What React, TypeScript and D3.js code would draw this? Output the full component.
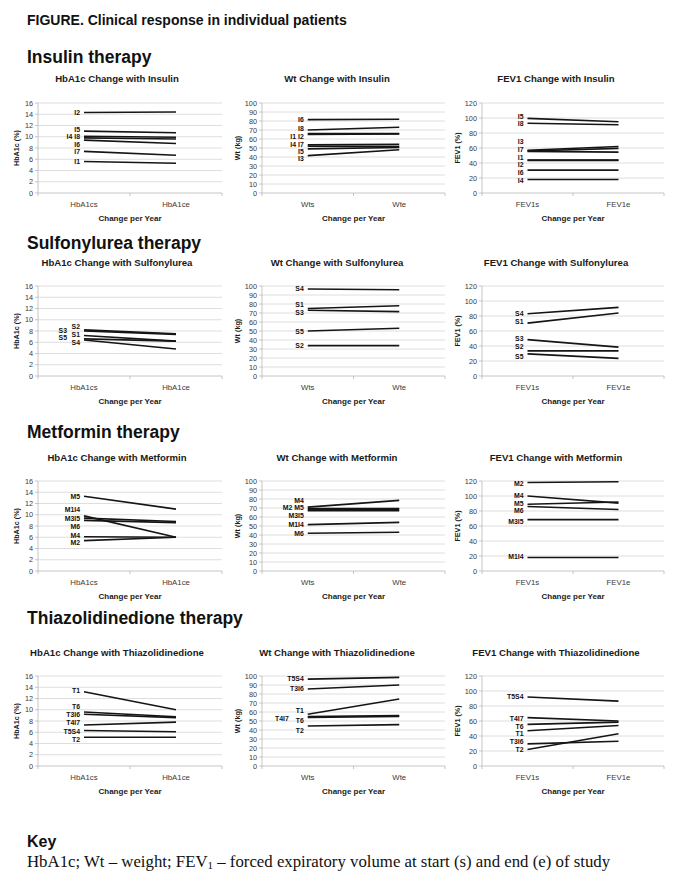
import React from 'react';
import * as d3 from 'd3';

// ---------- DATA ----------
const therapies = ['Insulin', 'Sulfonylurea', 'Metformin', 'Thiazolidinedione'];
const measures = ['HbA1c', 'Wt', 'FEV1'];
const yTitles = ['HbA1c (%)', 'Wt (kg)', 'FEV1 (%)'];
const catsHbA1c = ['HbA1cs', 'HbA1ce'];
const catsWt = ['Wts', 'Wte'];
const catsFEV1 = ['FEV1s', 'FEV1e'];
const ticksHbA1c = [0, 2, 4, 6, 8, 10, 12, 14, 16];
const ticksWt = [0, 10, 20, 30, 40, 50, 60, 70, 80, 90, 100];
const ticksFEV1 = [0, 20, 40, 60, 80, 100, 120];

// lines: [start, end]; labels: [text, value]
const insHbA1cLines = [[5.6, 5.3], [14.3, 14.4], [10.1, 9.9], [11.0, 10.7], [9.4, 8.8], [7.4, 6.7], [9.8, 9.6]];
const insHbA1cLabels: [string, number][] = [['I2', 14.3], ['I5', 11.3], ['I4 I8', 10.0], ['I6', 8.6], ['I7', 7.3], ['I1', 5.6]];
const insWtLines = [[66, 66], [65, 65.5], [41.5, 48], [53.5, 54], [49, 50.5], [81.5, 82], [52, 51.5], [70, 73]];
const insWtLabels: [string, number][] = [['I6', 81.3], ['I8', 71.2], ['I1 I2', 62.5], ['I4 I7', 54], ['I5', 46.2], ['I3', 38]];
const insFEV1Lines = [[44, 44], [43.5, 43.5], [57, 62], [18, 18], [99.5, 95], [30.5, 30.5], [56, 59.5], [55.5, 54.5], [93, 91]];
const insFEV1Labels: [string, number][] = [['I5', 102.5], ['I8', 92.2], ['I3', 69], ['I7', 58.5], ['I1', 48], ['I2', 38.5], ['I6', 27.6], ['I4', 16.4]];

const suHbA1cLines = [[8.2, 7.5], [8.0, 7.4], [7.2, 6.2], [6.6, 6.2], [6.4, 4.8]];
const suHbA1cLabels: [string, number][] = [['S2', 8.8], ['S3', 8.1], ['S1', 7.4], ['S5', 6.8], ['S4', 6.0]];
const suWtLines = [[96.7, 95.9], [75, 78], [73, 71.5], [50, 53], [33.7, 33.7]];
const suWtLabels: [string, number][] = [['S4', 96.7], ['S1', 79.8], ['S3', 70.5], ['S5', 50], ['S2', 33.7]];
const suFEV1Lines = [[83, 91.5], [70.5, 84], [48.5, 38.5], [33.5, 33.5], [29.5, 23.5]];
const suFEV1Labels: [string, number][] = [['S4', 83.8], ['S1', 72.4], ['S3', 49.5], ['S2', 38.8], ['S5', 26.5]];

const metHbA1cLines = [[13.3, 11.0], [9.8, 6.0], [9.4, 8.8], [9.0, 8.6], [6.1, 6.0], [5.4, 6.0]];
const metHbA1cLabels: [string, number][] = [['M5', 13.3], ['M1I4', 10.9], ['M3I5', 9.4], ['M6', 7.9], ['M4', 6.4], ['M2', 5.1]];
const metWtLines = [[71, 78.5], [69.5, 69.5], [68, 68.5], [67, 67], [51.5, 54], [42, 43]];
const metWtLabels: [string, number][] = [['M4', 78.5], ['M2 M5', 70.5], ['M3I5', 61.4], ['M1I4', 52.2], ['M6', 42.2]];
const metFEV1Lines = [[118, 119], [100, 90.5], [89, 92], [86, 82], [68.5, 68.5], [18, 18]];
const metFEV1Labels: [string, number][] = [['M2', 117], ['M4', 100.5], ['M5', 90.5], ['M6', 80.5], ['M3I5', 66], ['M1I4', 19]];

const tzdHbA1cLines = [[13.2, 10.0], [9.6, 8.75], [9.2, 8.6], [7.3, 7.8], [6.3, 6.1], [5.1, 5.1]];
const tzdHbA1cLabels: [string, number][] = [['T1', 13.5], ['T6', 10.6], ['T3I6', 9.2], ['T4I7', 7.8], ['T5S4', 6.2], ['T2', 4.8]];
const tzdWtLines = [[96.5, 98.5], [85.5, 90], [57.5, 74.5], [55, 56], [54, 55], [44.5, 46]];
const tzdWtLabels: [string, number][] = [['T5S4', 97.4], ['T3I6', 86.2], ['T1', 61.3], ['T4I7', 53], ['T6', 50.9], ['T2', 39.6]];
const tzdFEV1Lines = [[92, 86.5], [64.5, 60], [55.5, 58.5], [47, 54], [29.5, 33], [22, 43]];
const tzdFEV1Labels: [string, number][] = [['T5S4', 93], ['T4I7', 63.5], ['T6', 53.3], ['T1', 43], ['T3I6', 33], ['T2', 21.6]];

const panelLines = [
  [insHbA1cLines, insWtLines, insFEV1Lines],
  [suHbA1cLines, suWtLines, suFEV1Lines],
  [metHbA1cLines, metWtLines, metFEV1Lines],
  [tzdHbA1cLines, tzdWtLines, tzdFEV1Lines],
];
const panelLabels = [
  [insHbA1cLabels, insWtLabels, insFEV1Labels],
  [suHbA1cLabels, suWtLabels, suFEV1Labels],
  [metHbA1cLabels, metWtLabels, metFEV1Labels],
  [tzdHbA1cLabels, tzdWtLabels, tzdFEV1Labels],
];
const colCats = [catsHbA1c, catsWt, catsFEV1];
const colTicks = [ticksHbA1c, ticksWt, ticksFEV1];

// ---------- LAYOUT ----------
const W = 685, H = 887;
const colX = [[38, 222], [262, 445], [482, 664]];
const rowTop = [103, 286, 481, 676];
const plotH = 90;
const titleCX = [117, 337, 556];
const yTitleX = [16, 237, 457];
const headerY = [57, 243, 432, 618];
const panelTitleY = [78, 262, 457, 652];
// extra leftward shift for some labels: key `${row}-${col}-${text}`
const labelShift: Record<string, number> = { '1-0-S3': 13, '1-0-S5': 13, '3-1-T4I7': 15 };

const SANS = '"Liberation Sans", Arial, Helvetica, sans-serif';
const SERIF = '"Liberation Serif", "Times New Roman", serif';

function Panel({ row, col }: { row: number; col: number }) {
  const [x0, x1] = colX[col];
  const yTop = rowTop[row];
  const yBot = yTop + plotH;
  const cats = colCats[col];
  const ticks = colTicks[col];
  const x = d3.scaleBand().domain(cats).range([x0, x1]);
  const bw = x.bandwidth();
  const cx = (c: string) => (x(c) as number) + bw / 2;
  const y = d3.scaleLinear().domain([0, d3.max(ticks) as number]).range([yBot, yTop]);
  const line = d3.line<number>().x((_, i) => cx(cats[i])).y((d) => y(d));
  const lines = panelLines[row][col];
  const labels = panelLabels[row][col];
  const bounds = [x0, ...cats.map((c) => (x(c) as number) + bw)];
  return (
    <g>
      <text x={titleCX[col]} y={panelTitleY[row]} textAnchor="middle" dominantBaseline="central"
        fontFamily={SANS} fontWeight="bold" fontSize={9.6} fill="#1a1a1a">
        {`${measures[col]} Change with ${therapies[row]}`}
      </text>
      {ticks.map((t) => (
        <line key={'g' + t} x1={x0} x2={x1} y1={y(t)} y2={y(t)} stroke={t === 0 ? '#b8b8b8' : '#d6d6d6'} strokeWidth={0.8} />
      ))}
      <line x1={x0} x2={x0} y1={yTop} y2={yBot} stroke="#b8b8b8" strokeWidth={0.8} />
      {ticks.map((t) => (
        <g key={'t' + t}>
          <line x1={x0 - 3} x2={x0} y1={y(t)} y2={y(t)} stroke="#b8b8b8" strokeWidth={0.8} />
          <text x={x0 - 5} y={y(t)} textAnchor="end" dominantBaseline="central" fontFamily={SANS}
            fontSize={7.3} fill="#3a3a3a">{t}</text>
        </g>
      ))}
      {bounds.map((b, i) => (
        <line key={'b' + i} x1={b} x2={b} y1={yBot} y2={yBot + 3} stroke="#b8b8b8" strokeWidth={0.8} />
      ))}
      {cats.map((c) => (
        <text key={c} x={cx(c)} y={yBot + 11} textAnchor="middle" dominantBaseline="central"
          fontFamily={SANS} fontSize={7.8} fill="#3a3a3a">{c}</text>
      ))}
      <text x={(x0 + x1) / 2} y={yBot + 25} textAnchor="middle" dominantBaseline="central"
        fontFamily={SANS} fontWeight="bold" fontSize={8} fill="#1a1a1a">Change per Year</text>
      <text transform={`translate(${yTitleX[col]},${(yTop + yBot) / 2}) rotate(-90)`} textAnchor="middle"
        dominantBaseline="central" fontFamily={SANS} fontWeight="bold" fontSize={7.2} fill="#1a1a1a">
        {yTitles[col]}
      </text>
      {lines.map((l, i) => (
        <path key={'l' + i} d={line(l) as string} fill="none" stroke="#151515" strokeWidth={1.6} />
      ))}
      {labels.map(([txt, v]) => (
        <text key={txt} x={cx(cats[0]) - 4 - (labelShift[`${row}-${col}-${txt}`] || 0)} y={y(v)}
          textAnchor="end" dominantBaseline="central" fontFamily={SANS} fontWeight="bold" fontSize={6.9}
          fill="#111">{txt}</text>
      ))}
    </g>
  );
}

export default function App() {
  return (
    <svg width={W} height={H} style={{ position: 'absolute', left: 0, top: 0, background: '#fff' }}>
      <rect width={W} height={H} fill="#fff" />
      <text x={27} y={20} dominantBaseline="central" fontFamily={SANS} fontWeight="bold" fontSize={14} fill="#111">
        FIGURE.  Clinical response in individual patients
      </text>
      {therapies.map((t, r) => (
        <text key={t} x={27} y={headerY[r]} dominantBaseline="central" fontFamily={SANS} fontWeight="bold"
          fontSize={17.5} fill="#111">{`${t} therapy`}</text>
      ))}
      {therapies.map((_, r) => measures.map((__, c) => <Panel key={r + '-' + c} row={r} col={c} />))}
      <text x={27} y={841} dominantBaseline="central" fontFamily={SANS} fontWeight="bold" fontSize={16} fill="#111">Key</text>
      <text x={27} y={861} dominantBaseline="central" fontFamily={SERIF} fontSize={16.8} fill="#111">
        HbA1c; Wt – weight; FEV<tspan fontSize={11} dy={4}>1</tspan><tspan dy={-4}> – forced expiratory volume at start (s) and end (e) of study</tspan>
      </text>
    </svg>
  );
}
